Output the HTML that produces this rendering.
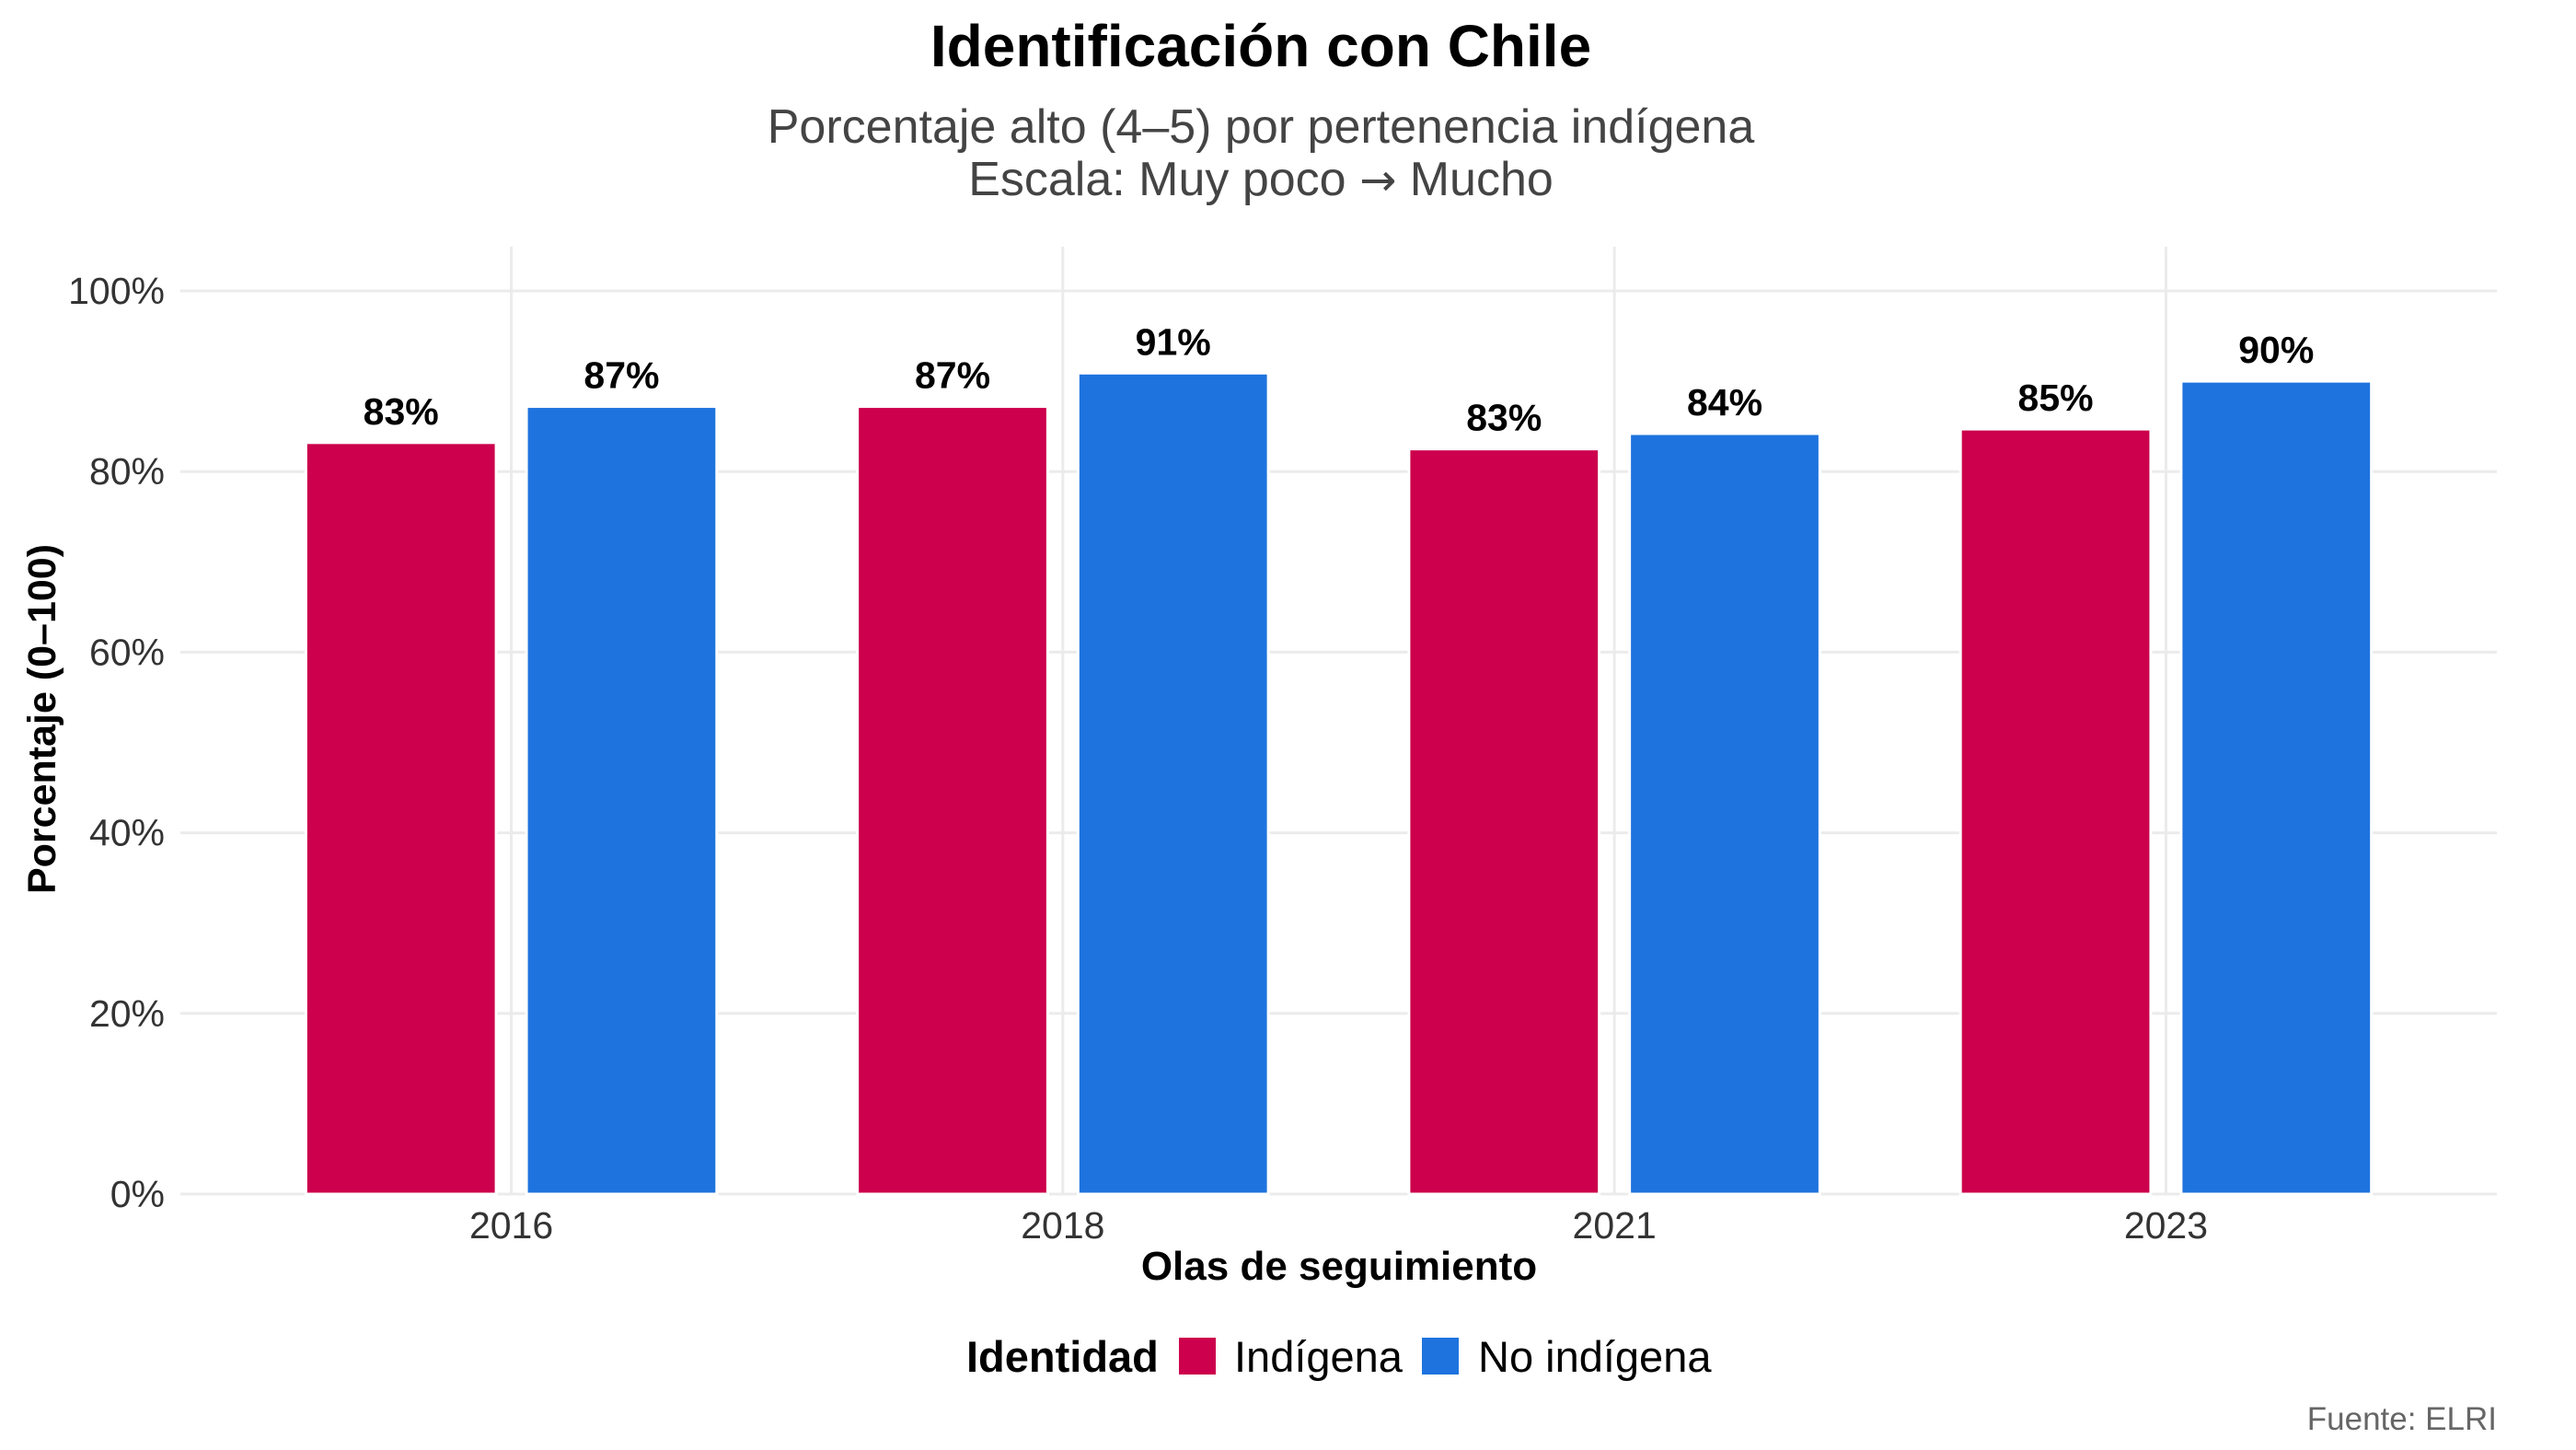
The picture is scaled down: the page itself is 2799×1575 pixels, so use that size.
<!DOCTYPE html>
<html><head><meta charset="utf-8"><style>
html,body{margin:0;padding:0;background:#fff;}
svg{display:block;font-family:"Liberation Sans",Arial,sans-serif;}
</style></head><body>
<svg id="chart" width="2799" height="1575" viewBox="0 0 2799 1575" xmlns="http://www.w3.org/2000/svg">
<text x="1370" y="72" text-anchor="middle" font-size="64" font-weight="bold" fill="#000">Identificación con Chile</text>
<text x="1370" y="155" text-anchor="middle" font-size="52" fill="#444">Porcentaje alto (4–5) por pertenencia indígena</text>
<text x="1370" y="212" text-anchor="middle" font-size="52" fill="#444">Escala: Muy poco <tspan font-family="DejaVu Sans" font-size="48">→</tspan> Mucho</text>
<g id="grid"></g>
<g id="bars"></g>
<g id="axes"></g>
<text transform="translate(60,781) rotate(-90)" text-anchor="middle" font-size="43" font-weight="bold" fill="#000">Porcentaje (0–100)</text>
<text x="1455" y="1390" text-anchor="middle" font-size="44" font-weight="bold" fill="#000">Olas de seguimiento</text>
<g>
<text x="1050" y="1490" font-size="47" font-weight="bold" fill="#000">Identidad</text>
<rect x="1281" y="1453" width="40" height="40" fill="#CC004C"/>
<text x="1341" y="1490" font-size="47" fill="#000">Indígena</text>
<rect x="1545" y="1453" width="40" height="40" fill="#1E73DE"/>
<text x="1606" y="1490" font-size="47" fill="#000">No indígena</text>
</g>
<text x="2713" y="1553" text-anchor="end" font-size="35" fill="#666">Fuente: ELRI</text>
</svg>
<script>
const categories = ["2016","2018","2021","2023"];
const indigena = [83.2, 87.2, 82.5, 84.7];
const noIndigena = [87.2, 90.9, 84.2, 90.0];
const yTicks = [0,20,40,60,80,100];
const yTickLabels = ["0%","20%","40%","60%","80%","100%"];

const NS="http://www.w3.org/2000/svg";
const plotL=196, plotR=2713, plotT=268, y0=1297, y100=316;
const unit=(plotR-plotL)/(categories.length-1+1.2);
function xPos(i){return plotL+unit*(0.6+i);}
function yPos(v){return y0-(v/100)*(y0-y100);}
function el(tag,attrs,parent){const e=document.createElementNS(NS,tag);for(const k in attrs)e.setAttribute(k,attrs[k]);parent.appendChild(e);return e;}
const grid=document.getElementById('grid'), bars=document.getElementById('bars'), axes=document.getElementById('axes');
yTicks.forEach((t,i)=>{
  const l=el('line',{x1:plotL,x2:plotR,y1:yPos(t),y2:yPos(t),stroke:'#ebebeb','stroke-width':3},grid);
  
  
  const tx=el('text',{x:179,y:yPos(t)+14,'text-anchor':'end','font-size':41,fill:'#333'},axes);
  tx.textContent=yTickLabels[i];
  
  
});
categories.forEach((c,i)=>{
  const l=el('line',{x1:xPos(i),x2:xPos(i),y1:plotT,y2:y0,stroke:'#ebebeb','stroke-width':3},grid);
  
  
  const tx=el('text',{x:xPos(i),y:1345,'text-anchor':'middle','font-size':41,fill:'#333'},axes);
  tx.textContent=c;
  
  
});
const bw=unit*0.345, off=unit*0.2;
function drawSeries(vals,color,sign,name){
  vals.forEach((v,i)=>{
    const cx=xPos(i)+sign*off;
    const r=el('rect',{x:cx-bw/2,y:yPos(v),width:bw,height:y0-yPos(v),fill:color,stroke:'#fff','stroke-width':3},bars);
    
    
    const t=el('text',{x:cx,y:yPos(v)-20,'text-anchor':'middle','font-size':41,'font-weight':'bold',fill:'#000'},bars);
    t.textContent=Math.round(v)+'%';
    
    
  });
}
drawSeries(indigena,'#CC004C',-1,'indigena');
drawSeries(noIndigena,'#1E73DE',1,'no-indigena');
</script>
</body></html>
